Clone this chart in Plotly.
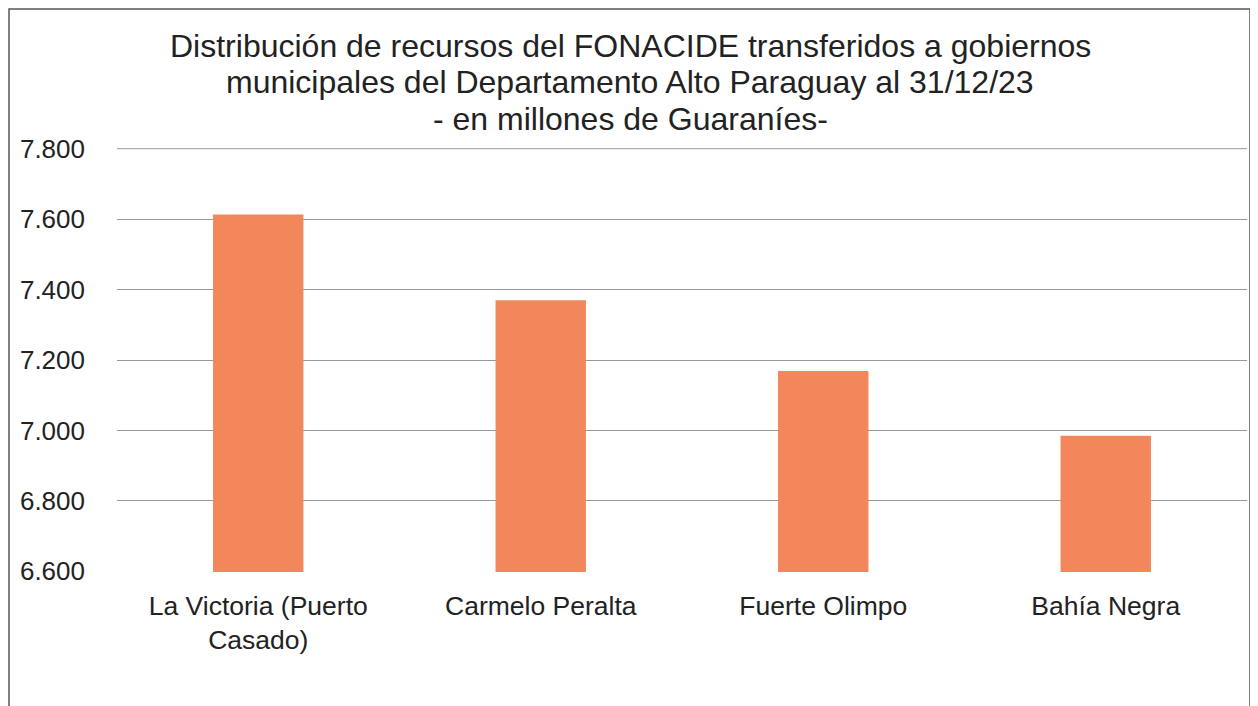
import plotly.graph_objects as go

categories = ["La Victoria (Puerto<br>Casado)", "Carmelo Peralta", "Fuerte Olimpo", "Bahía Negra"]
values = [7613, 7370, 7169, 6985]
tick_values = [6600, 6800, 7000, 7200, 7400, 7600, 7800]

title_lines = ["Distribución de recursos del FONACIDE transferidos a gobiernos",
               "municipales del Departamento Alto Paraguay al 31/12/23",
               "- en millones de Guaraníes-"]

fig = go.Figure(go.Bar(x=categories, y=values, marker=dict(color="#F2875C", line=dict(width=0))))

W, H = 1250, 698
L, R, T, B = 109, 11, 140, 134
pw = W - L - R
ph = H - T - B

fig.update_layout(
    width=W, height=H,
    margin=dict(l=L, r=R, t=T, b=B),
    paper_bgcolor="white", plot_bgcolor="white",
    separators=",.",
    font=dict(family="Liberation Sans, Arial, sans-serif", color="#222222"),
    bargap=0.68,
    showlegend=False,
)
for i, line in enumerate(title_lines):
    ypix = 38 + i * 36.5
    fig.add_annotation(text=line, xref="paper", yref="paper",
                       x=(622 - L) / pw, xanchor="center",
                       y=1 + (T - ypix) / ph, yanchor="middle",
                       showarrow=False, align="center",
                       font=dict(size=32, color="#222222"))
fig.update_yaxes(range=[6598, 7802], tickvals=tick_values, tickformat=",d",
                 showgrid=True, gridcolor="#999999", gridwidth=1,
                 zeroline=False, showline=False, ticks="",
                 tickfont=dict(size=26, color="#222222"), ticklabelstandoff=31)
fig.update_xaxes(showgrid=False, showline=False, ticks="",
                 tickfont=dict(size=26.5, color="#222222"), ticklabelstandoff=15)

# top gridline (plotly drops gridlines at the very edge of the plot)
fig.add_shape(type="line", xref="paper", yref="y", x0=0, x1=1,
              y0=tick_values[-1], y1=tick_values[-1],
              line=dict(color="#999999", width=1), layer="below")

# outer chart border
fig.add_shape(type="rect", xref="paper", yref="paper",
              x0=(1 - L) / pw, x1=(1242 - L) / pw,
              y0=-(720 - (T + ph)) / ph,
              y1=(T + ph - 1) / ph,
              line=dict(color="#555555", width=1.5), fillcolor="rgba(0,0,0,0)", layer="below")

fig.write_html("out.html")
